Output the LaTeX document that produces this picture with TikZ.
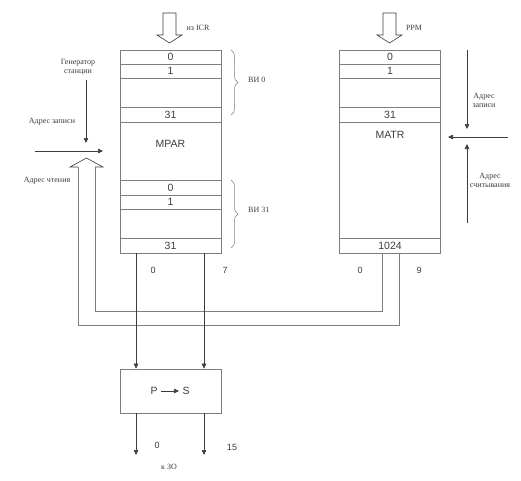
\documentclass[tikz,border=0pt]{standalone}
\usepackage{fontspec}
\setmainfont{Liberation Serif}
\newfontfamily\numfont{Liberation Sans}
\usetikzlibrary{arrows.meta,decorations.pathreplacing}

\begin{document}
\begin{tikzpicture}[x=1pt, y=-1pt, every node/.style={font=\fontsize{8}{9}\selectfont}]
		% Define colors
		\definecolor{lineg}{RGB}{125, 125, 125}
		\definecolor{darkg}{RGB}{60, 60, 60}
		\tikzset{
			membox/.style={draw=lineg, line width=0.7pt, minimum width=101pt, inner sep=0pt},
			cell/.style={font=\numfont\fontsize{10.5}{11}\selectfont, text=darkg},
			lbl/.style={text=darkg, align=center, inner sep=0pt},
			sig/.style={draw=darkg, line width=0.6pt, -{Triangle[length=5pt, width=4.5pt]}},
			wire/.style={draw=lineg, line width=0.7pt},
			hollow/.style={draw=darkg, line width=0.6pt, fill=white}
		}
		\useasboundingbox (0,0) rectangle (521,480);
		
		% ===== MEMORY BLOCKS =====
		\node[membox, minimum height=203pt] (mpar) at (170.5, 151.5) {};
		\node[membox, minimum height=203pt] (matr) at (390, 151.5) {};
		\node[membox, minimum height=44pt] (ps) at (170.5, 391) {};
		
		% MPAR rows
		\foreach \y in {64, 78, 107, 122, 180, 195, 209, 238}
			\draw[wire] (mpar.west |- 0,\y) -- (mpar.east |- 0,\y);
		\foreach \t/\y in {0/57, 1/71, 31/114.5, 0/187.5, 1/202, 31/245.5}
			\node[cell] at (170.5, \y) {\t};
		\node[cell] (mparname) at (170.5, 144) {MPAR};
		
		% MATR rows
		\foreach \y in {64, 78, 107, 122, 238}
			\draw[wire] (matr.west |- 0,\y) -- (matr.east |- 0,\y);
		\foreach \t/\y in {0/57, 1/71, 31/114.5, 1024/245.5}
			\node[cell] at (390, \y) {\t};
		\node[cell] (matrname) at (390, 135) {MATR};
		
		% ===== INPUT BLOCK ARROWS =====
		\draw[hollow] (163, 13) -- (176, 13) -- (176, 35) -- (182, 35) -- (169.5, 43) -- (157, 35) -- (163, 35) -- cycle;
		\node[lbl] (icr) at (198, 28) {из ICR};
		\draw[hollow] (383, 13) -- (396, 13) -- (396, 35) -- (402, 35) -- (389.5, 43) -- (377, 35) -- (383, 35) -- cycle;
		\node[lbl] (ppm) at (414, 28) {PPM};
		
		% ===== BRACES =====
		\draw[wire, line width=0.5pt, decorate, decoration={brace, amplitude=7pt}] (231, 50) -- (231, 115);
		\node[lbl, anchor=west] (vi0) at (248, 80) {ВИ 0};
		\draw[wire, line width=0.5pt, decorate, decoration={brace, amplitude=7pt}] (231, 180) -- (231, 248);
		\node[lbl, anchor=west] (vi31) at (248, 210) {ВИ 31};
		
		% ===== LEFT SIGNALS =====
		\node[lbl] (gen) at (78, 67.5) {Генератор\\станции};
		\coordinate (gentip) at (86, 143);
		\draw[sig] (86, 80) -- (gentip);
		\node[lbl] (wraddr) at (52, 122) {Адрес записи};
		\coordinate (wrfrom) at (35, 151);
		\coordinate (wrto) at (103, 151);
		\draw[sig] (wrfrom) -- (wrto);
		\node[lbl] (rdaddr) at (47, 181) {Адрес чтения};
		
		% read address loop from MATR
		\coordinate (m0) at (382, 253);
		\coordinate (m9) at (399, 253);
		\draw[hollow] (78, 167) -- (70, 167) -- (86.5, 158) -- (103, 167) -- (95, 167);
		\draw[wire] (m9) -- (399, 325) -- (78, 325) -- (78, 167);
		\draw[wire] (m0) -- (382, 311) -- (95, 311) -- (95, 167);
		
		% ===== RIGHT SIGNALS =====
		\node[lbl] (wraddr2) at (484, 100.5) {Адрес\\записи};
		\draw[sig] (467, 50) -- (467, 129);
		\draw[sig] (508, 137) -- (448, 137);
		\draw[sig] (467, 223) -- (467, 144);
		\node[lbl] (rdaddr2) at (490, 180) {Адрес\\считывания};
		
		% ===== OUTPUTS =====
		\draw[sig] (mpar.south -| 136,0) -- (ps.north -| 136,0);
		\draw[sig] (mpar.south -| 204,0) -- (ps.north -| 204,0);
		\node[cell, font=\numfont\fontsize{9}{10}\selectfont] at (153, 270) {0};
		\node[cell, font=\numfont\fontsize{9}{10}\selectfont] at (225, 270) {7};
		\node[cell, font=\numfont\fontsize{9}{10}\selectfont] at (360, 270) {0};
		\node[cell, font=\numfont\fontsize{9}{10}\selectfont] at (419, 270) {9};
		
		% P -> S converter
		\node[cell] (pin) at (154, 391) {P};
		\node[cell] (sout) at (186, 391) {S};
		\draw[sig] (pin) -- (sout);
		\draw[sig] (ps.south -| 136,0) -- (136, 455);
		\draw[sig] (ps.south -| 204,0) -- (204, 455);
		\node[cell, font=\numfont\fontsize{9}{10}\selectfont] at (157, 445) {0};
		\node[cell, font=\numfont\fontsize{9}{10}\selectfont] at (232, 447) {15};
		\node[lbl] (kzo) at (169, 467) {к ЗО};
		
	\end{tikzpicture}
\end{document}
